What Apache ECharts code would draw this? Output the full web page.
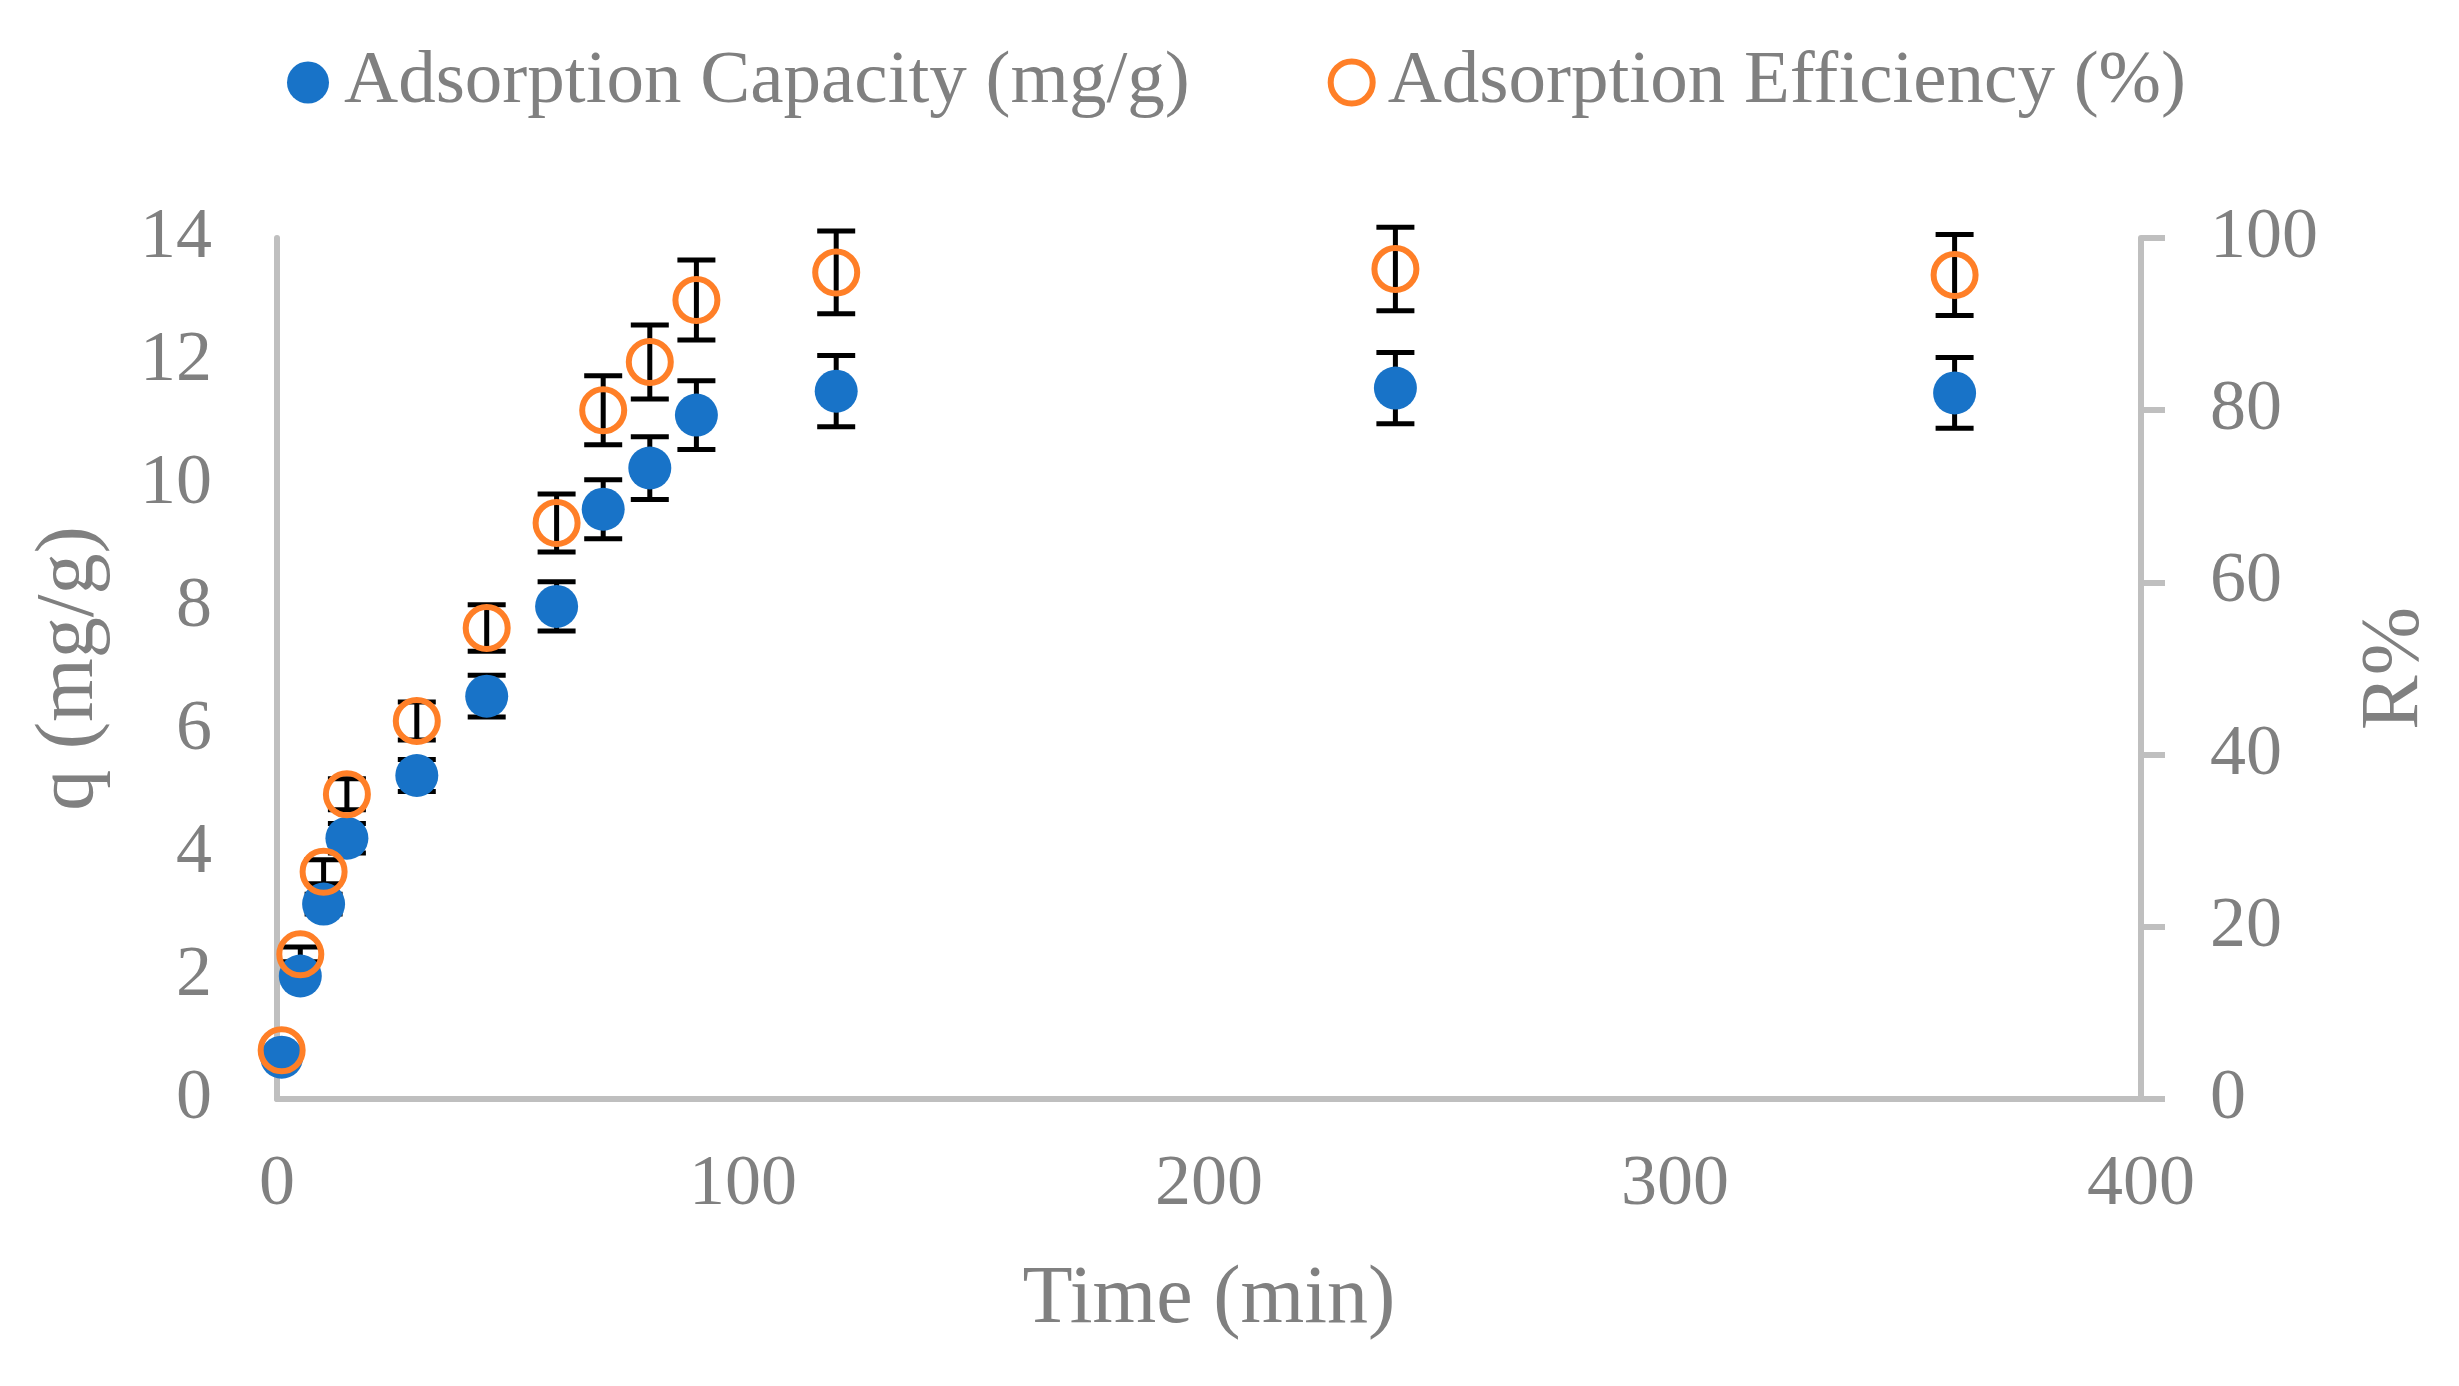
<!DOCTYPE html>
<html>
<head>
<meta charset="utf-8">
<title>Adsorption kinetics</title>
<script src="https://cdn.jsdelivr.net/npm/echarts@6/dist/echarts.min.js"></script>
<style>
  html, body { margin: 0; padding: 0; background: #fff; }
  #chart { width: 2459px; height: 1386px; }
</style>
</head>
<body>
<div id="chart"></div>
<script>
// time points (min)
var times = [1, 5, 10, 15, 30, 45, 60, 70, 80, 90, 120, 240, 360];
// adsorption capacity q (mg/g) and its error
var capacity = [0.68, 2.0, 3.17, 4.24, 5.26, 6.55, 8.01, 9.59, 10.26, 11.12, 11.51, 11.56, 11.48];
var capacityErr = [0.05, 0.1, 0.16, 0.24, 0.26, 0.34, 0.40, 0.48, 0.51, 0.56, 0.58, 0.58, 0.575];
// adsorption efficiency R (%) and its error
var efficiency = [5.66, 16.8, 26.4, 35.4, 43.9, 54.7, 66.9, 80.0, 85.6, 92.8, 96.0, 96.4, 95.7];
var efficiencyErr = [0.3, 0.85, 1.4, 1.8, 2.2, 2.7, 3.37, 4.0, 4.3, 4.65, 4.8, 4.85, 4.7];

var xTicks = [0, 100, 200, 300, 400];
var qTicks = [0, 2, 4, 6, 8, 10, 12, 14];
var rTicks = [0, 20, 40, 60, 80, 100];

var legendNames = ['Adsorption Capacity (mg/g)', 'Adsorption Efficiency (%)'];

var FONT = "'Liberation Serif', 'Times New Roman', serif";
var GRAY = '#808080';
var AXIS = '#bfbfbf';
var BLUE = '#1873c8';
var ORANGE = '#ff7f27';

var points = function (vals) {
  return times.map(function (t, i) { return [t, vals[i]]; });
};
var ranges = function (vals, errs) {
  return times.map(function (t, i) { return [t, vals[i] - errs[i], vals[i] + errs[i]]; });
};

function errorBar(params, api) {
  var x = api.value(0);
  var top = api.coord([x, api.value(2)]);
  var bot = api.coord([x, api.value(1)]);
  var hw = 19;
  var st = { stroke: '#000', lineWidth: 5 };
  return {
    type: 'group',
    children: [
      { type: 'line', shape: { x1: top[0], y1: top[1], x2: bot[0], y2: bot[1] }, style: st },
      { type: 'line', shape: { x1: top[0] - hw, y1: top[1], x2: top[0] + hw, y2: top[1] }, style: st },
      { type: 'line', shape: { x1: bot[0] - hw, y1: bot[1], x2: bot[0] + hw, y2: bot[1] }, style: st }
    ]
  };
}

var myChart = echarts.init(document.getElementById('chart'));
myChart.setOption({
  backgroundColor: '#fff',
  animation: false,
  textStyle: { fontFamily: FONT },
  legend: {
    left: 282,
    top: 40,
    itemGap: 138,
    itemWidth: 62,
    itemHeight: 42,
    textStyle: { fontSize: 75, color: GRAY, fontFamily: FONT },
    data: [
      { name: legendNames[0], itemStyle: { color: BLUE, borderWidth: 0 } },
      { name: legendNames[1], itemStyle: { color: '#fff', borderColor: ORANGE, borderWidth: 6 } }
    ]
  },
  grid: { left: 277, right: 318, top: 238, bottom: 287 },
  xAxis: {
    type: 'value',
    min: xTicks[0],
    max: xTicks[xTicks.length - 1],
    interval: 100,
    name: 'Time (min)',
    nameLocation: 'middle',
    nameGap: 160,
    nameTextStyle: { fontSize: 82, color: GRAY, fontFamily: FONT },
    axisLine: { show: true, lineStyle: { color: AXIS, width: 6 } },
    axisTick: { show: false },
    splitLine: { show: false },
    axisLabel: { fontSize: 72, color: GRAY, margin: 50, fontFamily: FONT }
  },
  yAxis: [
    {
      type: 'value',
      position: 'left',
      min: qTicks[0],
      max: qTicks[qTicks.length - 1],
      interval: 2,
      name: 'q (mg/g)',
      nameLocation: 'middle',
      nameRotate: 90,
      nameGap: 166,
      nameTextStyle: { fontSize: 82, color: GRAY, fontFamily: FONT },
      axisLine: { show: true, lineStyle: { color: AXIS, width: 6 } },
      axisTick: { show: false },
      splitLine: { show: false },
      axisLabel: { fontSize: 72, color: GRAY, margin: 65, fontFamily: FONT }
    },
    {
      type: 'value',
      position: 'right',
      min: rTicks[0],
      max: rTicks[rTicks.length - 1],
      interval: 20,
      name: 'R%',
      nameLocation: 'middle',
      nameRotate: 90,
      nameGap: 213,
      nameTextStyle: { fontSize: 82, color: GRAY, fontFamily: FONT },
      axisLine: { show: true, lineStyle: { color: AXIS, width: 6 } },
      axisTick: { show: true, inside: false, length: 24, lineStyle: { color: AXIS, width: 6 } },
      splitLine: { show: false },
      axisLabel: { fontSize: 72, color: GRAY, margin: 69, fontFamily: FONT }
    }
  ],
  series: [
    {
      name: 'capErr',
      type: 'custom',
      yAxisIndex: 0,
      renderItem: errorBar,
      encode: { x: 0, y: [1, 2] },
      data: ranges(capacity, capacityErr),
      silent: true
    },
    {
      name: legendNames[0],
      type: 'scatter',
      yAxisIndex: 0,
      symbol: 'circle',
      symbolSize: 43,
      itemStyle: { color: BLUE, opacity: 1 },
      data: points(capacity)
    },
    {
      name: 'effErr',
      type: 'custom',
      yAxisIndex: 1,
      renderItem: errorBar,
      encode: { x: 0, y: [1, 2] },
      data: ranges(efficiency, efficiencyErr),
      silent: true
    },
    {
      name: legendNames[1],
      type: 'scatter',
      yAxisIndex: 1,
      symbol: 'circle',
      symbolSize: 42,
      itemStyle: { color: 'rgba(255,255,255,0)', borderColor: ORANGE, borderWidth: 6, opacity: 1 },
      data: points(efficiency)
    }
  ]
});
</script>
</body>
</html>
